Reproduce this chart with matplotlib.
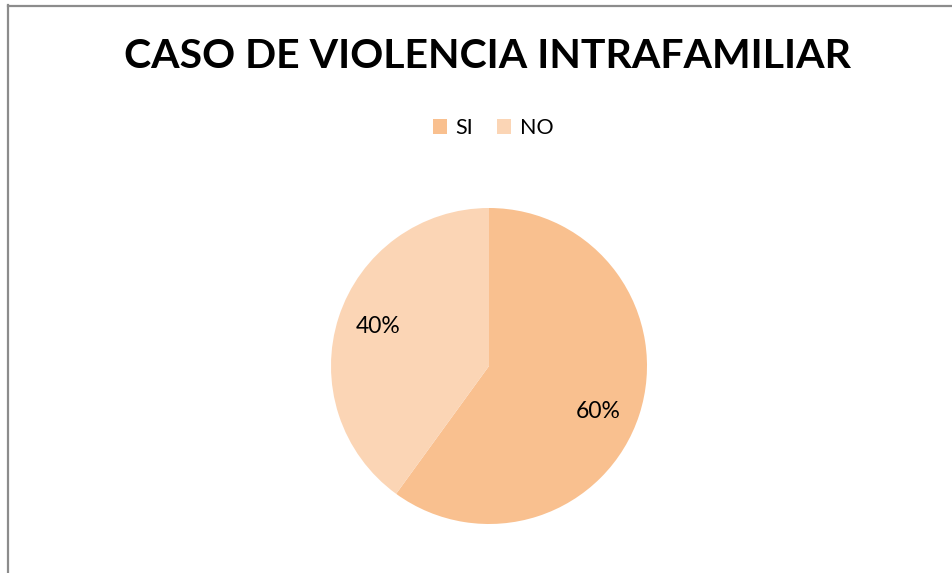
import matplotlib.pyplot as plt
from matplotlib.lines import Line2D
from matplotlib.patches import Patch

labels = ["SI", "NO"]
values = [60, 40]
colors = ["#F9C08F", "#FBD5B5"]

W, H = 953, 573
fig = plt.figure(figsize=(W / 100, H / 100), dpi=100)
plt.rcParams['font.family'] = ['Lato', 'DejaVu Sans']

# frame of the chart area (left and top edges)
fig.add_artist(Line2D([8.5 / W, 8.5 / W], [0, 1 - 5 / H], color="#8c8c8c", lw=1.6))
fig.add_artist(Line2D([8 / W, 952 / W], [1 - 5.5 / H, 1 - 5.5 / H], color="#8c8c8c", lw=1.6))

# pie axes: center (489, 366), radius 158 px
cx, cy, r = 489, 366, 158
ax = fig.add_axes([(cx - r) / W, (H - cy - r) / H, 2 * r / W, 2 * r / H])
wedges, texts = ax.pie(values, colors=colors, startangle=90, counterclock=False,
                       radius=1, wedgeprops=dict(linewidth=0))
ax.set_xlim(-1, 1)
ax.set_ylim(-1, 1)
ax.set_aspect("equal")
ax.axis("off")

# percent labels
ax.text((598 - cx) / r, (cy - 412) / r, "60%", ha="center", va="center", fontsize=16.5)
ax.text((378 - cx) / r, (cy - 326) / r, "40%", ha="center", va="center", fontsize=16.5)

fig.text(488 / W, 1 - 57 / H, "CASO DE VIOLENCIA INTRAFAMILIAR", ha="center", va="center",
         fontsize=29.5, fontweight="bold")

handles = [Patch(facecolor=c, edgecolor="none") for c in colors]
fig.legend(handles, labels, loc="center", bbox_to_anchor=(493 / W, 1 - 128 / H), ncol=2,
           frameon=False, fontsize=15.5, handlelength=0.65, handleheight=0.65,
           handletextpad=0.4, columnspacing=1.1)

fig.savefig("out.png", dpi=100)
